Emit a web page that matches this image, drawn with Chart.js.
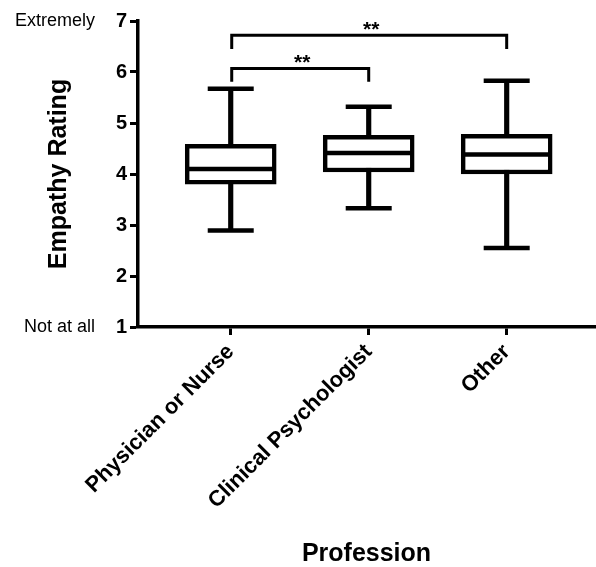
<!DOCTYPE html>
<html>
<head>
<meta charset="utf-8">
<script src="https://cdn.jsdelivr.net/npm/chart.js@4.4.1/dist/chart.umd.min.js"></script>
<style>
  html, body { margin: 0; padding: 0; background: #fff; }
  #wrap { width: 596px; height: 567px; }
</style>
</head>
<body>
<div id="wrap"><canvas id="empathyChart" width="596" height="567"></canvas></div>
<script>
// box plot values per profession
const categories = ['Physician or Nurse', 'Clinical Psychologist', 'Other'];
const whiskerMin = [2.89, 3.33, 2.55];
const q1 = [3.80, 4.04, 4.00];
const median = [4.10, 4.41, 4.38];
const q3 = [4.58, 4.76, 4.78];
const whiskerMax = [5.67, 5.32, 5.83];

const yTicks = [1, 2, 3, 4, 5, 6, 7];
const yEndLabels = { 7: 'Extremely', 1: 'Not at all' };

// significance brackets
const bracketFrom = [0, 0];
const bracketTo = [1, 2];
const bracketY = [6.07, 6.72];
const bracketDrop = [5.81, 6.45];
const bracketText = ['**', '**'];

const FONT = '"Liberation Sans", Arial, Helvetica, sans-serif';

const pts = arr => arr.map((v, i) => ({ x: i, y: v }));

const extrasPlugin = {
  id: 'extras',
  afterDatasetsDraw(chart) {
    const ctx = chart.ctx;
    const xs = chart.scales.x;
    const ys = chart.scales.y;
    ctx.save();
    // word labels beside the end ticks
    ctx.fillStyle = '#000';
    ctx.font = '18px ' + FONT;
    ctx.textAlign = 'right';
    ctx.textBaseline = 'middle';
    Object.keys(yEndLabels).forEach(k => {
      ctx.fillText(yEndLabels[k], 95, ys.getPixelForValue(Number(k)));
    });
    // brackets
    ctx.strokeStyle = '#000';
    ctx.lineWidth = 3;
    ctx.lineCap = 'butt';
    ctx.font = 'bold 21px ' + FONT;
    ctx.textAlign = 'center';
    ctx.textBaseline = 'alphabetic';
    for (let i = 0; i < bracketFrom.length; i++) {
      const x1 = xs.getPixelForValue(bracketFrom[i]) + 1;
      const x2 = xs.getPixelForValue(bracketTo[i]);
      const y = ys.getPixelForValue(bracketY[i]);
      const yd = ys.getPixelForValue(bracketDrop[i]);
      ctx.beginPath();
      ctx.moveTo(x1, yd);
      ctx.lineTo(x1, y);
      ctx.lineTo(x2, y);
      ctx.lineTo(x2, yd);
      ctx.stroke();
      ctx.fillText(bracketText[i], (x1 + x2) / 2 + 2, y + 1);
    }
    ctx.restore();
  }
};

new Chart(document.getElementById('empathyChart').getContext('2d'), {
  data: {
    datasets: [
      {
        type: 'line',
        label: 'median',
        data: pts(median),
        showLine: false,
        pointStyle: 'line',
        pointRadius: 44,
        pointBorderWidth: 4.5,
        pointBorderColor: '#000',
        order: 1
      },
      {
        type: 'line',
        label: 'max',
        data: pts(whiskerMax),
        showLine: false,
        pointStyle: 'line',
        pointRadius: 23,
        pointBorderWidth: 4.5,
        pointBorderColor: '#000',
        order: 1
      },
      {
        type: 'line',
        label: 'min',
        data: pts(whiskerMin),
        showLine: false,
        pointStyle: 'line',
        pointRadius: 23,
        pointBorderWidth: 4.5,
        pointBorderColor: '#000',
        order: 1
      },
      {
        type: 'bar',
        label: 'box',
        data: q1.map((v, i) => ({ x: i, y: [v, q3[i]] })),
        backgroundColor: '#fff',
        borderColor: '#000',
        borderWidth: 4.5,
        borderSkipped: false,
        barThickness: 91,
        grouped: false,
        order: 2
      },
      {
        type: 'bar',
        label: 'whisker',
        data: whiskerMin.map((v, i) => ({ x: i, y: [v, whiskerMax[i]] })),
        backgroundColor: '#000',
        borderWidth: 0,
        barThickness: 4.5,
        grouped: false,
        order: 3
      }
    ]
  },
  options: {
    responsive: false,
    animation: false,
    devicePixelRatio: 1,
    layout: { autoPadding: false, padding: { top: 21, right: 1, bottom: 0, left: 0 } },
    plugins: {
      legend: { display: false },
      tooltip: { enabled: false }
    },
    scales: {
      x: {
        type: 'linear',
        offset: false,
        min: -0.672,
        max: 2.64,
        afterBuildTicks: scale => {
          scale.ticks = categories.map((c, i) => ({ value: i }));
        },
        afterFit: scale => { scale.height = 240; },
        ticks: {
          autoSkip: false,
          minRotation: 45,
          maxRotation: 45,
          padding: 4,
          color: '#000',
          font: { family: FONT, size: 22, weight: 'bold' },
          callback: v => categories[v]
        },
        grid: {
          offset: false,
          drawOnChartArea: false,
          drawTicks: true,
          tickLength: 8,
          tickWidth: 3,
          tickColor: '#000'
        },
        border: { display: true, color: '#000', width: 3.5 },
        title: {
          display: true,
          text: 'Profession',
          color: '#000',
          font: { family: FONT, size: 25, weight: 'bold', lineHeight: 1 },
          padding: { top: 0, bottom: 0 }
        }
      },
      y: {
        min: 1,
        max: 7,
        afterBuildTicks: scale => {
          scale.ticks = yTicks.map(v => ({ value: v }));
        },
        afterFit: scale => { scale.width = 138; },
        ticks: {
          padding: 3,
          color: '#000',
          font: { family: FONT, size: 20, weight: 'bold' }
        },
        grid: {
          drawOnChartArea: false,
          drawTicks: true,
          tickLength: 8,
          tickWidth: 3,
          tickColor: '#000'
        },
        border: { display: true, color: '#000', width: 3.5 },
        title: {
          display: true,
          text: 'Empathy Rating',
          color: '#000',
          font: { family: FONT, size: 25, weight: 'bold', lineHeight: 1.2 },
          padding: { top: 44, bottom: 0 }
        }
      }
    }
  },
  plugins: [extrasPlugin]
});
</script>
</body>
</html>
